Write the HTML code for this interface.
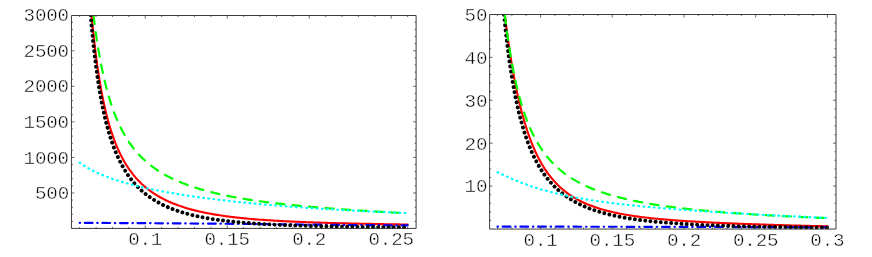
<!DOCTYPE html>
<html><head><meta charset="utf-8"><title>plot</title>
<style>
html,body{margin:0;padding:0;background:#fff;}
body{width:872px;height:257px;overflow:hidden;}
svg{display:block;}
text{font-family:"Liberation Mono",monospace;font-size:19.2px;fill:#000;stroke:#fff;stroke-width:0.45px;paint-order:fill stroke;letter-spacing:-0.15px;}
path{fill:none;}
</style></head><body>
<svg width="872" height="257" viewBox="0 0 872 257">
<defs>
<clipPath id="cL"><rect x="71.45" y="15.0" width="344.65" height="213.95"/></clipPath>
<clipPath id="cR"><rect x="489.6" y="14.0" width="346.40" height="215.55"/></clipPath>
</defs>
<rect width="872" height="257" fill="#fff"/>
<g clip-path="url(#cL)" stroke-linecap="round"><path d="M91.58 15.19 L91.72 16.69 L91.86 18.19 L92.00 19.69 L92.14 21.18 L92.29 22.68 L92.43 24.18 L92.58 25.68 L92.73 27.18 L92.88 28.67 L93.04 30.17 L93.19 31.67 L93.35 33.16 L93.51 34.66 L93.67 36.16 L93.83 37.65 L94.00 39.15 L94.17 40.65 L94.34 42.14 L94.51 43.64 L94.68 45.13 L94.86 46.63 L95.04 48.12 L95.22 49.62 L95.40 51.11 L95.58 52.60 L95.77 54.10 L95.96 55.59 L96.16 57.08 L96.35 58.57 L96.55 60.07 L96.75 61.56 L96.95 63.05 L97.16 64.54 L97.37 66.03 L97.58 67.52 L97.80 69.01 L98.02 70.50 L98.24 71.99 L98.47 73.48 L98.70 74.96 L98.93 76.45 L99.17 77.94 L99.41 79.42 L99.65 80.91 L99.90 82.39 L100.15 83.88 L100.40 85.36 L100.66 86.84 L100.93 88.33 L101.19 89.81 L101.47 91.29 L101.74 92.77 L102.03 94.24 L102.31 95.72 L102.61 97.20 L102.90 98.67 L103.20 100.15 L103.51 101.62 L103.83 103.09 L104.14 104.57 L104.47 106.03 L104.80 107.50 L105.14 108.97 L105.48 110.44 L105.83 111.90 L106.18 113.36 L106.55 114.82 L106.92 116.28 L107.30 117.74 L107.68 119.19 L108.07 120.65 L108.47 122.10 L108.88 123.55 L109.30 124.99 L109.73 126.44 L110.16 127.88 L110.61 129.31 L111.06 130.75 L111.52 132.18 L112.00 133.61 L112.48 135.04 L112.97 136.46 L113.48 137.88 L113.99 139.29 L114.52 140.70 L115.06 142.11 L115.61 143.51 L116.18 144.90 L116.75 146.29 L117.34 147.68 L117.94 149.06 L118.56 150.43 L119.19 151.79 L119.84 153.15 L120.50 154.51 L121.18 155.85 L121.87 157.19 L122.57 158.52 L123.30 159.84 L124.04 161.15 L124.80 162.45 L125.57 163.74 L126.36 165.02 L127.17 166.29 L128.00 167.55 L128.84 168.79 L129.70 170.02 L130.59 171.24 L131.49 172.45 L132.41 173.64 L133.34 174.82 L134.30 175.98 L135.27 177.13 L136.27 178.26 L137.28 179.37 L138.31 180.47 L139.36 181.55 L140.43 182.61 L141.51 183.66 L142.61 184.68 L143.73 185.69 L144.87 186.67 L146.02 187.64 L147.19 188.59 L148.37 189.52 L149.57 190.43 L150.79 191.32 L152.02 192.19 L153.26 193.03 L154.52 193.86 L155.78 194.67 L157.07 195.46 L158.36 196.23 L159.66 196.98 L160.98 197.72 L162.30 198.43 L163.64 199.12 L164.98 199.80 L166.34 200.46 L167.70 201.10 L169.07 201.72 L170.45 202.33 L171.83 202.92 L173.22 203.49 L174.62 204.05 L176.03 204.59 L177.44 205.11 L178.85 205.63 L180.27 206.12 L181.70 206.61 L183.13 207.07 L184.56 207.53 L186.00 207.97 L187.45 208.40 L188.89 208.82 L190.34 209.23 L191.79 209.62 L193.25 210.00 L194.71 210.37 L196.17 210.74 L197.63 211.09 L199.10 211.43 L200.57 211.76 L202.04 212.08 L203.51 212.40 L204.98 212.70 L206.46 213.00 L207.94 213.28 L209.42 213.56 L210.90 213.83 L212.38 214.10 L213.86 214.35 L215.34 214.60 L216.83 214.85 L218.32 215.08 L219.80 215.31 L221.29 215.54 L222.78 215.75 L224.27 215.97 L225.76 216.17 L227.25 216.37 L228.75 216.57 L230.24 216.76 L231.73 216.94 L233.23 217.12 L234.72 217.30 L236.22 217.47 L237.71 217.63 L239.21 217.80 L240.71 217.96 L242.21 218.11 L243.70 218.26 L245.20 218.41 L246.70 218.55 L248.20 218.69 L249.70 218.82 L251.20 218.95 L252.70 219.08 L254.20 219.21 L255.70 219.33 L257.20 219.45 L258.70 219.57 L260.20 219.68 L261.70 219.79 L263.20 219.90 L264.70 220.01 L266.20 220.11 L267.70 220.21 L269.21 220.31 L270.71 220.41 L272.21 220.50 L273.71 220.60 L275.22 220.69 L276.72 220.77 L278.22 220.86 L279.72 220.94 L281.23 221.03 L282.73 221.11 L284.23 221.19 L285.74 221.26 L287.24 221.34 L288.74 221.41 L290.25 221.48 L291.75 221.56 L293.25 221.62 L294.76 221.69 L296.26 221.76 L297.76 221.82 L299.27 221.89 L300.77 221.95 L302.28 222.01 L303.78 222.07 L305.28 222.13 L306.79 222.19 L308.29 222.24 L309.80 222.30 L311.30 222.35 L312.80 222.41 L314.31 222.46 L315.81 222.51 L317.32 222.56 L318.82 222.61 L320.33 222.66 L321.83 222.71 L323.33 222.75 L324.84 222.80 L326.34 222.85 L327.85 222.89 L329.35 222.93 L330.86 222.98 L332.36 223.02 L333.87 223.06 L335.37 223.10 L336.87 223.14 L338.38 223.18 L339.88 223.22 L341.39 223.26 L342.89 223.30 L344.40 223.33 L345.90 223.37 L347.41 223.41 L348.91 223.44 L350.42 223.48 L351.92 223.51 L353.43 223.55 L354.93 223.58 L356.44 223.61 L357.94 223.65 L359.45 223.68 L360.95 223.71 L362.46 223.74 L363.96 223.77 L365.46 223.80 L366.97 223.84 L368.47 223.87 L369.98 223.90 L371.48 223.92 L372.99 223.95 L374.49 223.98 L376.00 224.01 L377.50 224.04 L379.01 224.07 L380.51 224.09 L382.02 224.12 L383.52 224.15 L385.03 224.18 L386.53 224.20 L388.04 224.23 L389.54 224.26 L391.05 224.28 L392.55 224.31 L394.06 224.33 L395.56 224.36 L397.07 224.38 L398.57 224.41 L400.08 224.43 L401.58 224.46 L403.09 224.48 L404.59 224.51 L406.10 224.53 L407.60 224.55" stroke="#f00" stroke-width="2.1"/><path d="M79.66 222.85 L150.00 223.20 L220.00 223.70 L300.00 224.50 L350.00 225.00 L407.60 225.40" stroke="#00f" stroke-width="2.2" stroke-dasharray="0.4 4.75 7.7 4.75"/><path d="M90.59 15.19 L90.72 16.69 L90.85 18.19 L90.99 19.69 L91.12 21.19 L91.25 22.69 L91.39 24.19 L91.53 25.69 L91.67 27.19 L91.81 28.69 L91.95 30.19 L92.10 31.69 L92.24 33.19 L92.39 34.69 L92.54 36.19 L92.69 37.68 L92.85 39.18 L93.00 40.68 L93.16 42.18 L93.32 43.68 L93.48 45.17 L93.64 46.67 L93.81 48.17 L93.97 49.66 L94.14 51.16 L94.32 52.66 L94.49 54.15 L94.67 55.65 L94.84 57.14 L95.03 58.64 L95.21 60.13 L95.39 61.63 L95.58 63.12 L95.77 64.62 L95.97 66.11 L96.16 67.60 L96.36 69.10 L96.57 70.59 L96.77 72.08 L96.98 73.57 L97.19 75.06 L97.40 76.56 L97.62 78.05 L97.84 79.54 L98.07 81.03 L98.29 82.51 L98.52 84.00 L98.76 85.49 L99.00 86.98 L99.24 88.46 L99.49 89.95 L99.74 91.43 L99.99 92.92 L100.25 94.40 L100.51 95.89 L100.78 97.37 L101.05 98.85 L101.33 100.33 L101.61 101.81 L101.90 103.29 L102.19 104.77 L102.48 106.24 L102.79 107.72 L103.09 109.19 L103.41 110.67 L103.72 112.14 L104.05 113.61 L104.38 115.08 L104.72 116.55 L105.06 118.01 L105.41 119.48 L105.77 120.94 L106.14 122.40 L106.51 123.86 L106.89 125.32 L107.27 126.77 L107.67 128.23 L108.07 129.68 L108.49 131.13 L108.91 132.57 L109.34 134.02 L109.78 135.46 L110.22 136.89 L110.68 138.33 L111.15 139.76 L111.63 141.19 L112.12 142.61 L112.62 144.03 L113.13 145.45 L113.65 146.86 L114.19 148.27 L114.74 149.67 L115.30 151.07 L115.87 152.46 L116.46 153.85 L117.06 155.23 L117.68 156.61 L118.30 157.97 L118.95 159.34 L119.61 160.69 L120.28 162.04 L120.97 163.37 L121.68 164.70 L122.41 166.02 L123.15 167.34 L123.91 168.64 L124.68 169.93 L125.48 171.21 L126.29 172.48 L127.12 173.73 L127.97 174.98 L128.83 176.21 L129.72 177.43 L130.63 178.63 L131.55 179.82 L132.49 180.99 L133.46 182.15 L134.44 183.29 L135.44 184.42 L136.46 185.52 L137.50 186.61 L138.56 187.68 L139.64 188.74 L140.73 189.77 L141.85 190.79 L142.98 191.78 L144.12 192.76 L145.29 193.71 L146.47 194.65 L147.67 195.56 L148.88 196.45 L150.11 197.33 L151.35 198.18 L152.60 199.01 L153.87 199.82 L155.15 200.61 L156.45 201.38 L157.75 202.13 L159.07 202.86 L160.40 203.57 L161.74 204.27 L163.09 204.94 L164.44 205.59 L165.81 206.23 L167.18 206.84 L168.56 207.44 L169.95 208.02 L171.35 208.59 L172.75 209.13 L174.16 209.67 L175.58 210.18 L177.00 210.68 L178.42 211.17 L179.85 211.64 L181.29 212.09 L182.73 212.53 L184.17 212.96 L185.62 213.38 L187.07 213.78 L188.53 214.17 L189.99 214.55 L191.45 214.91 L192.91 215.27 L194.38 215.61 L195.85 215.95 L197.32 216.27 L198.79 216.59 L200.26 216.89 L201.74 217.18 L203.22 217.47 L204.70 217.75 L206.18 218.01 L207.67 218.27 L209.15 218.53 L210.64 218.77 L212.12 219.01 L213.61 219.24 L215.10 219.46 L216.59 219.68 L218.08 219.89 L219.58 220.09 L221.07 220.29 L222.56 220.48 L224.06 220.67 L225.55 220.85 L227.05 221.03 L228.55 221.20 L230.04 221.36 L231.54 221.52 L233.04 221.68 L234.54 221.83 L236.04 221.98 L237.53 222.12 L239.03 222.26 L240.53 222.39 L242.03 222.52 L243.54 222.65 L245.04 222.77 L246.54 222.90 L248.04 223.01 L249.54 223.13 L251.04 223.24 L252.55 223.34 L254.05 223.45 L255.55 223.55 L257.05 223.65 L258.56 223.75 L260.06 223.84 L261.56 223.93 L263.07 224.02 L264.57 224.11 L266.07 224.19 L267.58 224.27 L269.08 224.35 L270.59 224.43 L272.09 224.51 L273.59 224.58 L275.10 224.65 L276.60 224.72 L278.11 224.79 L279.61 224.86 L281.12 224.92 L282.62 224.99 L284.13 225.05 L285.63 225.11 L287.14 225.17 L288.64 225.23 L290.15 225.28 L291.65 225.34 L293.16 225.39 L294.66 225.44 L296.17 225.49 L297.67 225.54 L299.18 225.59 L300.68 225.64 L302.19 225.68 L303.69 225.73 L305.20 225.77 L306.71 225.82 L308.21 225.86 L309.72 225.90 L311.22 225.94 L312.73 225.98 L314.23 226.02 L315.74 226.06 L317.24 226.09 L318.75 226.13 L320.26 226.16 L321.76 226.20 L323.27 226.23 L324.77 226.27 L326.28 226.30 L327.78 226.33 L329.29 226.36 L330.80 226.39 L332.30 226.42 L333.81 226.45 L335.31 226.48 L336.82 226.51 L338.33 226.53 L339.83 226.56 L341.34 226.59 L342.84 226.61 L344.35 226.64 L345.86 226.66 L347.36 226.69 L348.87 226.71 L350.37 226.73 L351.88 226.76 L353.39 226.78 L354.89 226.80 L356.40 226.82 L357.90 226.84 L359.41 226.86 L360.91 226.89 L362.42 226.91 L363.93 226.92 L365.43 226.94 L366.94 226.96 L368.44 226.98 L369.95 227.00 L371.46 227.02 L372.96 227.04 L374.47 227.05 L375.97 227.07 L377.48 227.09 L378.99 227.10 L380.49 227.12 L382.00 227.14 L383.51 227.15 L385.01 227.17 L386.52 227.18 L388.02 227.20 L389.53 227.21 L391.04 227.23 L392.54 227.24 L394.05 227.26 L395.55 227.27 L397.06 227.28 L398.57 227.30 L400.07 227.31 L401.58 227.32 L403.08 227.34 L404.59 227.35 L406.10 227.36 L407.60 227.37" stroke="#000" stroke-width="3.9" stroke-dasharray="0.01 5.17" stroke-dashoffset="0"/><path d="M93.46 15.19 L93.65 16.68 L93.83 18.18 L94.02 19.67 L94.21 21.17 L94.41 22.66 L94.60 24.15 L94.80 25.65 L95.01 27.14 L95.21 28.63 L95.42 30.12 L95.63 31.62 L95.84 33.11 L96.05 34.60 L96.27 36.09 L96.49 37.58 L96.72 39.07 L96.94 40.56 L97.17 42.05 L97.41 43.53 L97.64 45.02 L97.88 46.51 L98.13 47.99 L98.38 49.48 L98.63 50.97 L98.88 52.45 L99.14 53.93 L99.40 55.42 L99.67 56.90 L99.94 58.38 L100.21 59.86 L100.49 61.34 L100.77 62.82 L101.06 64.30 L101.35 65.78 L101.65 67.26 L101.95 68.73 L102.26 70.21 L102.57 71.68 L102.89 73.15 L103.21 74.62 L103.54 76.09 L103.87 77.56 L104.21 79.03 L104.56 80.50 L104.91 81.96 L105.27 83.42 L105.63 84.89 L106.00 86.35 L106.38 87.80 L106.76 89.26 L107.15 90.71 L107.55 92.17 L107.96 93.62 L108.37 95.07 L108.79 96.51 L109.22 97.96 L109.66 99.40 L110.11 100.84 L110.56 102.27 L111.03 103.70 L111.50 105.13 L111.99 106.56 L112.48 107.98 L112.98 109.40 L113.50 110.82 L114.02 112.23 L114.56 113.64 L115.10 115.04 L115.66 116.44 L116.23 117.84 L116.81 119.22 L117.41 120.61 L118.02 121.99 L118.64 123.36 L119.27 124.73 L119.92 126.09 L120.58 127.44 L121.25 128.79 L121.94 130.13 L122.65 131.46 L123.37 132.78 L124.10 134.10 L124.85 135.40 L125.62 136.70 L126.40 137.99 L127.20 139.26 L128.01 140.53 L128.84 141.79 L129.69 143.03 L130.56 144.26 L131.44 145.48 L132.34 146.69 L133.25 147.89 L134.19 149.07 L135.14 150.24 L136.11 151.39 L137.09 152.53 L138.09 153.66 L139.11 154.76 L140.15 155.86 L141.20 156.94 L142.27 158.00 L143.36 159.04 L144.46 160.07 L145.57 161.08 L146.70 162.08 L147.85 163.05 L149.01 164.01 L150.18 164.96 L151.37 165.88 L152.57 166.79 L153.79 167.68 L155.02 168.56 L156.25 169.41 L157.51 170.25 L158.77 171.07 L160.04 171.88 L161.32 172.67 L162.62 173.44 L163.92 174.20 L165.23 174.94 L166.55 175.66 L167.88 176.37 L169.21 177.07 L170.56 177.75 L171.91 178.41 L173.27 179.06 L174.63 179.70 L176.01 180.32 L177.38 180.93 L178.77 181.53 L180.15 182.11 L181.55 182.68 L182.95 183.24 L184.35 183.79 L185.76 184.32 L187.17 184.85 L188.59 185.36 L190.01 185.86 L191.43 186.35 L192.86 186.83 L194.29 187.31 L195.72 187.77 L197.16 188.22 L198.60 188.66 L200.04 189.09 L201.49 189.52 L202.94 189.93 L204.39 190.34 L205.84 190.74 L207.29 191.13 L208.75 191.52 L210.21 191.89 L211.67 192.26 L213.13 192.62 L214.59 192.98 L216.06 193.33 L217.53 193.67 L218.99 194.00 L220.46 194.33 L221.94 194.65 L223.41 194.97 L224.88 195.28 L226.36 195.59 L227.83 195.89 L229.31 196.18 L230.79 196.47 L232.27 196.75 L233.75 197.03 L235.23 197.31 L236.71 197.58 L238.19 197.84 L239.68 198.10 L241.16 198.36 L242.65 198.61 L244.13 198.86 L245.62 199.10 L247.11 199.34 L248.59 199.58 L250.08 199.81 L251.57 200.04 L253.06 200.26 L254.55 200.48 L256.04 200.70 L257.53 200.91 L259.02 201.12 L260.52 201.33 L262.01 201.53 L263.50 201.74 L264.99 201.93 L266.49 202.13 L267.98 202.32 L269.48 202.51 L270.97 202.70 L272.47 202.88 L273.96 203.06 L275.46 203.24 L276.95 203.42 L278.45 203.59 L279.94 203.76 L281.44 203.93 L282.94 204.10 L284.44 204.27 L285.93 204.43 L287.43 204.59 L288.93 204.75 L290.43 204.90 L291.93 205.06 L293.42 205.21 L294.92 205.36 L296.42 205.51 L297.92 205.66 L299.42 205.80 L300.92 205.94 L302.42 206.09 L303.92 206.23 L305.42 206.36 L306.92 206.50 L308.42 206.64 L309.92 206.77 L311.42 206.90 L312.92 207.03 L314.42 207.16 L315.92 207.29 L317.42 207.41 L318.92 207.54 L320.42 207.66 L321.93 207.79 L323.43 207.91 L324.93 208.03 L326.43 208.14 L327.93 208.26 L329.43 208.38 L330.94 208.49 L332.44 208.61 L333.94 208.72 L335.44 208.83 L336.94 208.94 L338.45 209.05 L339.95 209.16 L341.45 209.27 L342.95 209.38 L344.46 209.48 L345.96 209.59 L347.46 209.69 L348.96 209.80 L350.47 209.90 L351.97 210.00 L353.47 210.10 L354.98 210.20 L356.48 210.30 L357.98 210.40 L359.48 210.50 L360.99 210.59 L362.49 210.69 L363.99 210.78 L365.50 210.88 L367.00 210.97 L368.50 211.07 L370.01 211.16 L371.51 211.25 L373.01 211.34 L374.52 211.43 L376.02 211.53 L377.52 211.61 L379.03 211.70 L380.53 211.79 L382.04 211.88 L383.54 211.97 L385.04 212.06 L386.55 212.14 L388.05 212.23 L389.55 212.31 L391.06 212.40 L392.56 212.48 L394.07 212.57 L395.57 212.65 L397.07 212.73 L398.58 212.82 L400.08 212.90 L401.59 212.98 L403.09 213.06 L404.59 213.14 L406.10 213.23 L407.60 213.31" stroke="#0f0" stroke-width="2.2" stroke-dasharray="8.35 8.15" stroke-dashoffset="-0.5"/><path d="M79.66 162.70 L80.89 163.57 L82.14 164.41 L83.40 165.24 L84.68 166.04 L85.96 166.83 L87.26 167.60 L88.57 168.34 L89.89 169.07 L91.21 169.79 L92.55 170.48 L93.90 171.16 L95.25 171.82 L96.61 172.46 L97.98 173.09 L99.36 173.71 L100.74 174.31 L102.13 174.90 L103.52 175.47 L104.92 176.03 L106.33 176.58 L107.74 177.11 L109.15 177.64 L110.57 178.15 L111.99 178.65 L113.41 179.14 L114.84 179.62 L116.27 180.09 L117.71 180.55 L119.14 181.01 L120.58 181.45 L122.03 181.89 L123.47 182.31 L124.92 182.73 L126.37 183.14 L127.82 183.54 L129.28 183.94 L130.73 184.33 L132.19 184.71 L133.65 185.09 L135.11 185.46 L136.57 185.82 L138.04 186.18 L139.50 186.53 L140.97 186.88 L142.44 187.22 L143.91 187.55 L145.38 187.88 L146.85 188.21 L148.32 188.53 L149.80 188.84 L151.27 189.15 L152.75 189.46 L154.22 189.76 L155.70 190.06 L157.18 190.35 L158.66 190.64 L160.14 190.92 L161.62 191.21 L163.10 191.48 L164.58 191.76 L166.06 192.03 L167.55 192.30 L169.03 192.56 L170.51 192.82 L172.00 193.08 L173.49 193.33 L174.97 193.58 L176.46 193.83 L177.95 194.07 L179.43 194.31 L180.92 194.55 L182.41 194.79 L183.90 195.02 L185.39 195.25 L186.88 195.48 L188.37 195.70 L189.86 195.92 L191.35 196.14 L192.84 196.36 L194.33 196.58 L195.82 196.79 L197.32 197.00 L198.81 197.21 L200.30 197.41 L201.80 197.62 L203.29 197.82 L204.78 198.02 L206.28 198.21 L207.77 198.41 L209.27 198.60 L210.76 198.79 L212.26 198.98 L213.75 199.17 L215.25 199.35 L216.74 199.53 L218.24 199.71 L219.74 199.89 L221.23 200.07 L222.73 200.25 L224.23 200.42 L225.72 200.59 L227.22 200.76 L228.72 200.93 L230.22 201.10 L231.71 201.26 L233.21 201.43 L234.71 201.59 L236.21 201.75 L237.71 201.91 L239.21 202.06 L240.71 202.22 L242.20 202.37 L243.70 202.53 L245.20 202.68 L246.70 202.83 L248.20 202.98 L249.70 203.12 L251.20 203.27 L252.70 203.41 L254.20 203.56 L255.70 203.70 L257.20 203.84 L258.70 203.98 L260.21 204.12 L261.71 204.25 L263.21 204.39 L264.71 204.52 L266.21 204.66 L267.71 204.79 L269.21 204.92 L270.71 205.05 L272.21 205.17 L273.72 205.30 L275.22 205.43 L276.72 205.55 L278.22 205.68 L279.72 205.80 L281.23 205.92 L282.73 206.04 L284.23 206.16 L285.73 206.28 L287.24 206.39 L288.74 206.51 L290.24 206.63 L291.74 206.74 L293.25 206.85 L294.75 206.96 L296.25 207.08 L297.76 207.19 L299.26 207.30 L300.76 207.40 L302.27 207.51 L303.77 207.62 L305.27 207.72 L306.78 207.83 L308.28 207.93 L309.78 208.03 L311.29 208.14 L312.79 208.24 L314.29 208.34 L315.80 208.44 L317.30 208.53 L318.80 208.63 L320.31 208.73 L321.81 208.83 L323.32 208.92 L324.82 209.01 L326.32 209.11 L327.83 209.20 L329.33 209.29 L330.84 209.38 L332.34 209.48 L333.85 209.57 L335.35 209.65 L336.86 209.74 L338.36 209.83 L339.86 209.92 L341.37 210.00 L342.87 210.09 L344.38 210.17 L345.88 210.26 L347.39 210.34 L348.89 210.42 L350.40 210.51 L351.90 210.59 L353.41 210.67 L354.91 210.75 L356.42 210.83 L357.92 210.91 L359.43 210.98 L360.93 211.06 L362.44 211.14 L363.94 211.22 L365.45 211.29 L366.95 211.37 L368.46 211.44 L369.96 211.51 L371.47 211.59 L372.97 211.66 L374.48 211.73 L375.98 211.80 L377.49 211.88 L378.99 211.95 L380.50 212.02 L382.01 212.09 L383.51 212.15 L385.02 212.22 L386.52 212.29 L388.03 212.36 L389.53 212.42 L391.04 212.49 L392.54 212.56 L394.05 212.62 L395.56 212.69 L397.06 212.75 L398.57 212.81 L400.07 212.88 L401.58 212.94 L403.08 213.00 L404.59 213.06 L406.10 213.12 L407.60 213.19" stroke="#0ff" stroke-width="2.2" stroke-dasharray="0.8 4.38"/></g><path d="M79.66 228.45v-1.5M79.66 15.5v1.5M96.06 228.45v-1.5M96.06 15.5v1.5M112.46 228.45v-1.5M112.46 15.5v1.5M128.85 228.45v-1.5M128.85 15.5v1.5M161.65 228.45v-1.5M161.65 15.5v1.5M178.04 228.45v-1.5M178.04 15.5v1.5M194.44 228.45v-1.5M194.44 15.5v1.5M210.84 228.45v-1.5M210.84 15.5v1.5M243.63 228.45v-1.5M243.63 15.5v1.5M260.03 228.45v-1.5M260.03 15.5v1.5M276.43 228.45v-1.5M276.43 15.5v1.5M292.82 228.45v-1.5M292.82 15.5v1.5M325.62 228.45v-1.5M325.62 15.5v1.5M342.01 228.45v-1.5M342.01 15.5v1.5M358.41 228.45v-1.5M358.41 15.5v1.5M374.81 228.45v-1.5M374.81 15.5v1.5M407.60 228.45v-1.5M407.60 15.5v1.5M145.25 228.45v-3M145.25 15.5v3M227.23 228.45v-3M227.23 15.5v3M309.22 228.45v-3M309.22 15.5v3M391.20 228.45v-3M391.20 15.5v3M71.45 221.44h1.5M416.1 221.44h-1.5M71.45 214.33h1.5M416.1 214.33h-1.5M71.45 207.21h1.5M416.1 207.21h-1.5M71.45 200.10h1.5M416.1 200.10h-1.5M71.45 185.88h1.5M416.1 185.88h-1.5M71.45 178.77h1.5M416.1 178.77h-1.5M71.45 171.65h1.5M416.1 171.65h-1.5M71.45 164.54h1.5M416.1 164.54h-1.5M71.45 150.32h1.5M416.1 150.32h-1.5M71.45 143.21h1.5M416.1 143.21h-1.5M71.45 136.09h1.5M416.1 136.09h-1.5M71.45 128.98h1.5M416.1 128.98h-1.5M71.45 114.76h1.5M416.1 114.76h-1.5M71.45 107.65h1.5M416.1 107.65h-1.5M71.45 100.53h1.5M416.1 100.53h-1.5M71.45 93.42h1.5M416.1 93.42h-1.5M71.45 79.20h1.5M416.1 79.20h-1.5M71.45 72.09h1.5M416.1 72.09h-1.5M71.45 64.97h1.5M416.1 64.97h-1.5M71.45 57.86h1.5M416.1 57.86h-1.5M71.45 43.64h1.5M416.1 43.64h-1.5M71.45 36.53h1.5M416.1 36.53h-1.5M71.45 29.41h1.5M416.1 29.41h-1.5M71.45 22.30h1.5M416.1 22.30h-1.5M71.45 192.99h3M416.1 192.99h-3M71.45 157.43h3M416.1 157.43h-3M71.45 121.87h3M416.1 121.87h-3M71.45 86.31h3M416.1 86.31h-3M71.45 50.75h3M416.1 50.75h-3" stroke="#444" stroke-width="0.8"/><path d="M71.45 15.5H416.1V228.45H71.45Z" stroke="#333" stroke-width="0.95"/>
<g clip-path="url(#cR)" stroke-linecap="round"><path d="M504.81 14.40 L504.98 15.89 L505.16 17.39 L505.34 18.88 L505.52 20.38 L505.71 21.87 L505.89 23.36 L506.08 24.86 L506.27 26.35 L506.46 27.84 L506.65 29.34 L506.85 30.83 L507.04 32.32 L507.24 33.81 L507.44 35.30 L507.64 36.79 L507.85 38.29 L508.05 39.78 L508.26 41.27 L508.47 42.76 L508.68 44.25 L508.90 45.74 L509.12 47.23 L509.34 48.71 L509.56 50.20 L509.78 51.69 L510.01 53.18 L510.24 54.67 L510.47 56.15 L510.70 57.64 L510.94 59.13 L511.18 60.61 L511.42 62.10 L511.67 63.58 L511.91 65.07 L512.17 66.55 L512.42 68.03 L512.68 69.52 L512.94 71.00 L513.20 72.48 L513.46 73.96 L513.73 75.44 L514.01 76.92 L514.28 78.40 L514.56 79.88 L514.85 81.36 L515.13 82.84 L515.42 84.31 L515.72 85.79 L516.02 87.26 L516.32 88.74 L516.62 90.21 L516.93 91.68 L517.25 93.16 L517.57 94.63 L517.89 96.10 L518.22 97.56 L518.55 99.03 L518.89 100.50 L519.23 101.96 L519.58 103.43 L519.93 104.89 L520.29 106.35 L520.65 107.81 L521.02 109.27 L521.40 110.73 L521.78 112.19 L522.16 113.64 L522.56 115.09 L522.95 116.55 L523.36 117.99 L523.77 119.44 L524.19 120.89 L524.61 122.33 L525.05 123.77 L525.49 125.21 L525.93 126.65 L526.39 128.08 L526.85 129.52 L527.32 130.94 L527.80 132.37 L528.29 133.79 L528.79 135.21 L529.29 136.63 L529.81 138.05 L530.34 139.46 L530.87 140.86 L531.42 142.27 L531.97 143.66 L532.54 145.06 L533.12 146.45 L533.71 147.83 L534.31 149.21 L534.92 150.59 L535.54 151.96 L536.18 153.32 L536.83 154.68 L537.49 156.03 L538.17 157.37 L538.86 158.71 L539.57 160.04 L540.29 161.36 L541.03 162.67 L541.78 163.98 L542.54 165.27 L543.32 166.56 L544.12 167.83 L544.94 169.10 L545.77 170.35 L546.62 171.59 L547.49 172.82 L548.37 174.04 L549.28 175.24 L550.20 176.43 L551.14 177.61 L552.09 178.77 L553.07 179.92 L554.06 181.05 L555.08 182.16 L556.11 183.25 L557.16 184.33 L558.23 185.39 L559.32 186.43 L560.42 187.45 L561.54 188.45 L562.68 189.44 L563.84 190.40 L565.02 191.34 L566.21 192.26 L567.41 193.16 L568.64 194.04 L569.87 194.89 L571.13 195.73 L572.39 196.54 L573.67 197.34 L574.96 198.11 L576.27 198.86 L577.58 199.59 L578.91 200.30 L580.25 200.99 L581.60 201.65 L582.95 202.30 L584.32 202.93 L585.70 203.54 L587.08 204.14 L588.47 204.71 L589.87 205.27 L591.27 205.81 L592.68 206.33 L594.10 206.84 L595.52 207.33 L596.95 207.81 L598.38 208.27 L599.82 208.71 L601.26 209.15 L602.71 209.56 L604.16 209.97 L605.61 210.36 L607.07 210.75 L608.52 211.12 L609.99 211.47 L611.45 211.82 L612.92 212.16 L614.39 212.48 L615.86 212.80 L617.33 213.11 L618.81 213.41 L620.28 213.70 L621.76 213.98 L623.24 214.25 L624.72 214.51 L626.20 214.77 L627.69 215.02 L629.17 215.26 L630.66 215.50 L632.15 215.73 L633.64 215.95 L635.13 216.17 L636.62 216.38 L638.11 216.59 L639.60 216.79 L641.09 216.98 L642.58 217.17 L644.08 217.36 L645.57 217.54 L647.07 217.71 L648.56 217.88 L650.06 218.05 L651.55 218.21 L653.05 218.37 L654.55 218.53 L656.04 218.68 L657.54 218.82 L659.04 218.97 L660.54 219.11 L662.04 219.25 L663.53 219.38 L665.03 219.51 L666.53 219.64 L668.03 219.77 L669.53 219.89 L671.03 220.01 L672.53 220.13 L674.03 220.25 L675.53 220.36 L677.03 220.47 L678.54 220.58 L680.04 220.69 L681.54 220.79 L683.04 220.89 L684.54 220.99 L686.04 221.09 L687.54 221.19 L689.05 221.28 L690.55 221.38 L692.05 221.47 L693.55 221.56 L695.06 221.65 L696.56 221.73 L698.06 221.82 L699.56 221.90 L701.07 221.99 L702.57 222.07 L704.07 222.15 L705.57 222.23 L707.08 222.30 L708.58 222.38 L710.08 222.46 L711.59 222.53 L713.09 222.60 L714.59 222.68 L716.10 222.75 L717.60 222.82 L719.10 222.89 L720.61 222.95 L722.11 223.02 L723.61 223.09 L725.12 223.15 L726.62 223.22 L728.12 223.28 L729.63 223.34 L731.13 223.41 L732.63 223.47 L734.14 223.53 L735.64 223.59 L737.15 223.65 L738.65 223.71 L740.15 223.76 L741.66 223.82 L743.16 223.88 L744.66 223.93 L746.17 223.99 L747.67 224.04 L749.18 224.10 L750.68 224.15 L752.18 224.20 L753.69 224.26 L755.19 224.31 L756.70 224.36 L758.20 224.41 L759.70 224.46 L761.21 224.51 L762.71 224.56 L764.22 224.61 L765.72 224.66 L767.23 224.71 L768.73 224.76 L770.23 224.80 L771.74 224.85 L773.24 224.90 L774.75 224.94 L776.25 224.99 L777.75 225.03 L779.26 225.08 L780.76 225.12 L782.27 225.17 L783.77 225.21 L785.28 225.25 L786.78 225.30 L788.28 225.34 L789.79 225.38 L791.29 225.43 L792.80 225.47 L794.30 225.51 L795.81 225.55 L797.31 225.59 L798.82 225.63 L800.32 225.67 L801.82 225.71 L803.33 225.75 L804.83 225.79 L806.34 225.83 L807.84 225.87 L809.35 225.90 L810.85 225.94 L812.36 225.98 L813.86 226.02 L815.36 226.05 L816.87 226.09 L818.37 226.13 L819.88 226.16 L821.38 226.20 L822.89 226.24 L824.39 226.27 L825.90 226.31 L827.40 226.34" stroke="#f00" stroke-width="2.1"/><path d="M497.53 226.65 L650.00 226.80 L730.00 227.00 L780.00 227.20 L827.40 227.45" stroke="#00f" stroke-width="2.2" stroke-dasharray="0.4 4.8 7.7 4.8"/><path d="M503.95 14.40 L504.10 15.90 L504.25 17.40 L504.40 18.89 L504.56 20.39 L504.71 21.89 L504.86 23.39 L505.02 24.88 L505.18 26.38 L505.34 27.88 L505.50 29.37 L505.67 30.87 L505.83 32.37 L506.00 33.86 L506.17 35.36 L506.34 36.85 L506.52 38.35 L506.69 39.85 L506.87 41.34 L507.05 42.83 L507.23 44.33 L507.42 45.82 L507.60 47.32 L507.79 48.81 L507.98 50.30 L508.18 51.80 L508.37 53.29 L508.57 54.78 L508.77 56.27 L508.98 57.77 L509.18 59.26 L509.39 60.75 L509.60 62.24 L509.81 63.73 L510.03 65.22 L510.25 66.71 L510.47 68.20 L510.70 69.68 L510.93 71.17 L511.16 72.66 L511.39 74.15 L511.63 75.63 L511.87 77.12 L512.12 78.60 L512.37 80.09 L512.62 81.57 L512.88 83.06 L513.14 84.54 L513.40 86.02 L513.67 87.50 L513.94 88.98 L514.21 90.46 L514.49 91.94 L514.78 93.42 L515.07 94.90 L515.36 96.38 L515.66 97.85 L515.96 99.33 L516.27 100.80 L516.58 102.27 L516.90 103.74 L517.22 105.22 L517.55 106.68 L517.88 108.15 L518.22 109.62 L518.57 111.08 L518.92 112.55 L519.28 114.01 L519.64 115.47 L520.01 116.93 L520.39 118.39 L520.77 119.84 L521.16 121.30 L521.56 122.75 L521.97 124.20 L522.38 125.65 L522.80 127.09 L523.23 128.54 L523.67 129.98 L524.11 131.41 L524.57 132.85 L525.03 134.28 L525.50 135.71 L525.99 137.14 L526.48 138.56 L526.98 139.98 L527.49 141.39 L528.02 142.81 L528.55 144.21 L529.09 145.62 L529.65 147.01 L530.22 148.41 L530.80 149.80 L531.39 151.18 L532.00 152.56 L532.62 153.93 L533.25 155.30 L533.90 156.66 L534.55 158.01 L535.23 159.36 L535.92 160.70 L536.62 162.03 L537.34 163.35 L538.08 164.66 L538.83 165.97 L539.59 167.26 L540.38 168.55 L541.18 169.82 L542.00 171.09 L542.83 172.34 L543.69 173.58 L544.56 174.81 L545.44 176.02 L546.35 177.23 L547.28 178.41 L548.22 179.59 L549.18 180.74 L550.16 181.89 L551.16 183.01 L552.18 184.12 L553.21 185.22 L554.27 186.29 L555.34 187.35 L556.43 188.39 L557.53 189.41 L558.66 190.41 L559.80 191.39 L560.95 192.36 L562.13 193.30 L563.32 194.22 L564.52 195.12 L565.74 196.01 L566.98 196.87 L568.22 197.71 L569.49 198.53 L570.76 199.34 L572.05 200.12 L573.34 200.88 L574.65 201.62 L575.98 202.34 L577.31 203.04 L578.65 203.73 L580.00 204.39 L581.36 205.04 L582.73 205.67 L584.10 206.28 L585.49 206.87 L586.88 207.45 L588.28 208.00 L589.68 208.55 L591.09 209.07 L592.51 209.58 L593.93 210.08 L595.35 210.56 L596.79 211.03 L598.22 211.48 L599.66 211.92 L601.10 212.35 L602.55 212.76 L604.00 213.16 L605.46 213.55 L606.91 213.93 L608.37 214.30 L609.84 214.65 L611.30 215.00 L612.77 215.33 L614.24 215.66 L615.71 215.97 L617.19 216.28 L618.66 216.57 L620.14 216.86 L621.62 217.14 L623.10 217.41 L624.58 217.68 L626.07 217.93 L627.55 218.18 L629.04 218.42 L630.52 218.66 L632.01 218.89 L633.50 219.11 L634.99 219.32 L636.48 219.53 L637.97 219.74 L639.47 219.93 L640.96 220.12 L642.45 220.31 L643.95 220.49 L645.44 220.67 L646.94 220.84 L648.43 221.01 L649.93 221.17 L651.43 221.33 L652.93 221.48 L654.42 221.63 L655.92 221.78 L657.42 221.92 L658.92 222.06 L660.42 222.19 L661.92 222.33 L663.42 222.45 L664.92 222.58 L666.42 222.70 L667.92 222.82 L669.42 222.93 L670.92 223.04 L672.42 223.15 L673.93 223.26 L675.43 223.36 L676.93 223.47 L678.43 223.57 L679.93 223.66 L681.44 223.76 L682.94 223.85 L684.44 223.94 L685.94 224.03 L687.45 224.11 L688.95 224.19 L690.45 224.28 L691.96 224.35 L693.46 224.43 L694.96 224.51 L696.47 224.58 L697.97 224.65 L699.48 224.73 L700.98 224.79 L702.48 224.86 L703.99 224.93 L705.49 224.99 L707.00 225.06 L708.50 225.12 L710.00 225.18 L711.51 225.24 L713.01 225.29 L714.52 225.35 L716.02 225.41 L717.53 225.46 L719.03 225.51 L720.53 225.56 L722.04 225.62 L723.54 225.67 L725.05 225.71 L726.55 225.76 L728.06 225.81 L729.56 225.85 L731.07 225.90 L732.57 225.94 L734.08 225.98 L735.58 226.03 L737.09 226.07 L738.59 226.11 L740.10 226.15 L741.60 226.19 L743.11 226.22 L744.61 226.26 L746.12 226.30 L747.62 226.33 L749.13 226.37 L750.63 226.40 L752.14 226.44 L753.64 226.47 L755.15 226.50 L756.65 226.53 L758.16 226.57 L759.66 226.60 L761.17 226.63 L762.67 226.66 L764.18 226.69 L765.68 226.71 L767.19 226.74 L768.69 226.77 L770.20 226.80 L771.70 226.82 L773.21 226.85 L774.71 226.87 L776.22 226.90 L777.72 226.92 L779.23 226.95 L780.74 226.97 L782.24 227.00 L783.75 227.02 L785.25 227.04 L786.76 227.06 L788.26 227.09 L789.77 227.11 L791.27 227.13 L792.78 227.15 L794.28 227.17 L795.79 227.19 L797.29 227.21 L798.80 227.23 L800.30 227.25 L801.81 227.27 L803.31 227.29 L804.82 227.30 L806.33 227.32 L807.83 227.34 L809.34 227.36 L810.84 227.38 L812.35 227.39 L813.85 227.41 L815.36 227.43 L816.86 227.44 L818.37 227.46 L819.87 227.47 L821.38 227.49 L822.88 227.50 L824.39 227.52 L825.89 227.53 L827.40 227.55" stroke="#000" stroke-width="3.9" stroke-dasharray="0.01 5.19" stroke-dashoffset="-0.5"/><path d="M504.79 14.40 L504.97 15.89 L505.15 17.39 L505.33 18.88 L505.51 20.38 L505.70 21.87 L505.89 23.37 L506.08 24.86 L506.27 26.35 L506.46 27.84 L506.66 29.34 L506.86 30.83 L507.06 32.32 L507.26 33.81 L507.47 35.30 L507.68 36.79 L507.89 38.28 L508.11 39.77 L508.33 41.26 L508.55 42.75 L508.77 44.24 L509.00 45.73 L509.23 47.22 L509.46 48.70 L509.70 50.19 L509.94 51.68 L510.18 53.16 L510.43 54.65 L510.68 56.13 L510.93 57.62 L511.19 59.10 L511.45 60.58 L511.71 62.06 L511.98 63.55 L512.25 65.03 L512.53 66.51 L512.81 67.98 L513.10 69.46 L513.39 70.94 L513.68 72.42 L513.98 73.89 L514.28 75.37 L514.59 76.84 L514.90 78.31 L515.22 79.78 L515.55 81.25 L515.88 82.72 L516.21 84.19 L516.55 85.66 L516.90 87.12 L517.25 88.58 L517.61 90.05 L517.97 91.51 L518.34 92.97 L518.72 94.42 L519.11 95.88 L519.50 97.33 L519.90 98.78 L520.30 100.23 L520.71 101.68 L521.14 103.13 L521.57 104.57 L522.00 106.01 L522.45 107.45 L522.90 108.88 L523.37 110.31 L523.84 111.74 L524.32 113.17 L524.81 114.59 L525.31 116.01 L525.83 117.43 L526.35 118.84 L526.88 120.25 L527.42 121.65 L527.98 123.05 L528.55 124.45 L529.12 125.84 L529.71 127.22 L530.32 128.60 L530.93 129.97 L531.56 131.34 L532.20 132.70 L532.86 134.06 L533.53 135.41 L534.21 136.75 L534.91 138.08 L535.62 139.41 L536.35 140.72 L537.10 142.03 L537.86 143.33 L538.63 144.62 L539.42 145.90 L540.23 147.17 L541.06 148.43 L541.90 149.68 L542.75 150.92 L543.63 152.14 L544.52 153.36 L545.43 154.55 L546.36 155.74 L547.30 156.91 L548.26 158.07 L549.24 159.22 L550.24 160.34 L551.25 161.46 L552.28 162.55 L553.33 163.64 L554.39 164.70 L555.47 165.75 L556.57 166.78 L557.68 167.80 L558.81 168.79 L559.95 169.77 L561.11 170.73 L562.28 171.68 L563.47 172.61 L564.67 173.51 L565.88 174.41 L567.11 175.28 L568.35 176.13 L569.60 176.97 L570.86 177.79 L572.13 178.60 L573.42 179.38 L574.71 180.15 L576.02 180.90 L577.33 181.64 L578.65 182.36 L579.98 183.06 L581.32 183.75 L582.67 184.42 L584.02 185.08 L585.38 185.72 L586.75 186.35 L588.13 186.96 L589.51 187.56 L590.90 188.14 L592.29 188.72 L593.69 189.28 L595.09 189.82 L596.50 190.36 L597.91 190.88 L599.32 191.39 L600.74 191.89 L602.17 192.38 L603.59 192.86 L605.03 193.32 L606.46 193.78 L607.90 194.23 L609.34 194.66 L610.78 195.09 L612.23 195.51 L613.68 195.92 L615.13 196.32 L616.58 196.71 L618.04 197.09 L619.49 197.47 L620.95 197.84 L622.41 198.20 L623.88 198.55 L625.34 198.90 L626.81 199.24 L628.28 199.57 L629.75 199.90 L631.22 200.22 L632.69 200.53 L634.16 200.84 L635.64 201.14 L637.12 201.43 L638.59 201.72 L640.07 202.01 L641.55 202.29 L643.03 202.56 L644.51 202.83 L645.99 203.09 L647.48 203.35 L648.96 203.61 L650.45 203.86 L651.93 204.10 L653.42 204.34 L654.90 204.58 L656.39 204.81 L657.88 205.04 L659.37 205.27 L660.86 205.49 L662.34 205.71 L663.83 205.92 L665.33 206.13 L666.82 206.34 L668.31 206.54 L669.80 206.74 L671.29 206.94 L672.79 207.13 L674.28 207.32 L675.77 207.51 L677.27 207.70 L678.76 207.88 L680.26 208.06 L681.75 208.23 L683.25 208.41 L684.74 208.58 L686.24 208.75 L687.73 208.91 L689.23 209.08 L690.73 209.24 L692.22 209.40 L693.72 209.55 L695.22 209.71 L696.72 209.86 L698.21 210.01 L699.71 210.16 L701.21 210.31 L702.71 210.45 L704.21 210.59 L705.71 210.73 L707.20 210.87 L708.70 211.01 L710.20 211.14 L711.70 211.28 L713.20 211.41 L714.70 211.54 L716.20 211.66 L717.70 211.79 L719.20 211.92 L720.70 212.04 L722.20 212.16 L723.70 212.28 L725.20 212.40 L726.70 212.52 L728.21 212.63 L729.71 212.75 L731.21 212.86 L732.71 212.97 L734.21 213.08 L735.71 213.19 L737.21 213.30 L738.71 213.41 L740.22 213.51 L741.72 213.62 L743.22 213.72 L744.72 213.82 L746.22 213.92 L747.73 214.02 L749.23 214.12 L750.73 214.22 L752.23 214.32 L753.73 214.41 L755.24 214.51 L756.74 214.60 L758.24 214.69 L759.74 214.78 L761.25 214.88 L762.75 214.97 L764.25 215.05 L765.75 215.14 L767.26 215.23 L768.76 215.32 L770.26 215.40 L771.77 215.49 L773.27 215.57 L774.77 215.65 L776.28 215.74 L777.78 215.82 L779.28 215.90 L780.79 215.98 L782.29 216.06 L783.79 216.14 L785.30 216.22 L786.80 216.29 L788.30 216.37 L789.81 216.45 L791.31 216.52 L792.81 216.60 L794.32 216.67 L795.82 216.74 L797.32 216.82 L798.83 216.89 L800.33 216.96 L801.83 217.03 L803.34 217.10 L804.84 217.17 L806.35 217.24 L807.85 217.31 L809.35 217.38 L810.86 217.45 L812.36 217.51 L813.86 217.58 L815.37 217.65 L816.87 217.71 L818.38 217.78 L819.88 217.84 L821.38 217.91 L822.89 217.97 L824.39 218.03 L825.90 218.10 L827.40 218.16" stroke="#0f0" stroke-width="2.2" stroke-dasharray="8.4 8.2" stroke-dashoffset="-0.7"/><path d="M497.53 172.17 L498.89 172.83 L500.25 173.49 L501.62 174.14 L502.98 174.78 L504.35 175.42 L505.72 176.05 L507.09 176.68 L508.47 177.30 L509.85 177.92 L511.23 178.52 L512.62 179.12 L514.01 179.71 L515.40 180.29 L516.79 180.87 L518.19 181.43 L519.60 181.99 L521.00 182.54 L522.41 183.08 L523.83 183.61 L525.24 184.13 L526.66 184.65 L528.08 185.15 L529.51 185.65 L530.94 186.14 L532.37 186.62 L533.80 187.09 L535.24 187.55 L536.68 188.01 L538.12 188.45 L539.57 188.89 L541.01 189.32 L542.46 189.75 L543.91 190.16 L545.37 190.57 L546.82 190.97 L548.28 191.36 L549.74 191.75 L551.20 192.13 L552.66 192.50 L554.13 192.86 L555.60 193.22 L557.06 193.57 L558.53 193.92 L560.00 194.26 L561.48 194.59 L562.95 194.92 L564.43 195.24 L565.90 195.55 L567.38 195.86 L568.86 196.17 L570.34 196.46 L571.82 196.76 L573.30 197.04 L574.79 197.33 L576.27 197.61 L577.75 197.88 L579.24 198.15 L580.73 198.41 L582.21 198.67 L583.70 198.92 L585.19 199.18 L586.68 199.42 L588.17 199.66 L589.66 199.90 L591.15 200.14 L592.64 200.37 L594.14 200.60 L595.63 200.82 L597.12 201.04 L598.62 201.26 L600.11 201.47 L601.61 201.68 L603.10 201.89 L604.60 202.09 L606.09 202.29 L607.59 202.49 L609.09 202.68 L610.58 202.87 L612.08 203.06 L613.58 203.25 L615.08 203.43 L616.58 203.62 L618.08 203.79 L619.58 203.97 L621.08 204.15 L622.57 204.32 L624.07 204.49 L625.58 204.65 L627.08 204.82 L628.58 204.98 L630.08 205.14 L631.58 205.30 L633.08 205.46 L634.58 205.62 L636.08 205.77 L637.59 205.92 L639.09 206.07 L640.59 206.22 L642.09 206.37 L643.60 206.51 L645.10 206.65 L646.60 206.79 L648.10 206.93 L649.61 207.07 L651.11 207.21 L652.61 207.35 L654.12 207.48 L655.62 207.61 L657.13 207.74 L658.63 207.87 L660.13 208.00 L661.64 208.13 L663.14 208.26 L664.65 208.38 L666.15 208.51 L667.66 208.63 L669.16 208.75 L670.67 208.87 L672.17 208.99 L673.68 209.11 L675.18 209.23 L676.69 209.34 L678.19 209.46 L679.70 209.57 L681.20 209.69 L682.71 209.80 L684.21 209.91 L685.72 210.02 L687.22 210.13 L688.73 210.24 L690.24 210.35 L691.74 210.46 L693.25 210.56 L694.75 210.67 L696.26 210.77 L697.77 210.88 L699.27 210.98 L700.78 211.08 L702.28 211.19 L703.79 211.29 L705.30 211.39 L706.80 211.49 L708.31 211.59 L709.82 211.68 L711.32 211.78 L712.83 211.88 L714.34 211.98 L715.84 212.07 L717.35 212.17 L718.86 212.26 L720.36 212.36 L721.87 212.45 L723.38 212.54 L724.88 212.64 L726.39 212.73 L727.90 212.82 L729.40 212.91 L730.91 213.00 L732.42 213.09 L733.92 213.18 L735.43 213.27 L736.94 213.36 L738.45 213.45 L739.95 213.53 L741.46 213.62 L742.97 213.71 L744.47 213.79 L745.98 213.88 L747.49 213.96 L749.00 214.05 L750.50 214.13 L752.01 214.22 L753.52 214.30 L755.02 214.38 L756.53 214.46 L758.04 214.55 L759.55 214.63 L761.05 214.71 L762.56 214.79 L764.07 214.87 L765.58 214.95 L767.08 215.03 L768.59 215.11 L770.10 215.19 L771.61 215.27 L773.11 215.35 L774.62 215.43 L776.13 215.50 L777.64 215.58 L779.15 215.66 L780.65 215.73 L782.16 215.81 L783.67 215.89 L785.18 215.96 L786.68 216.04 L788.19 216.11 L789.70 216.19 L791.21 216.26 L792.72 216.33 L794.22 216.41 L795.73 216.48 L797.24 216.55 L798.75 216.63 L800.26 216.70 L801.76 216.77 L803.27 216.84 L804.78 216.91 L806.29 216.99 L807.79 217.06 L809.30 217.13 L810.81 217.20 L812.32 217.27 L813.83 217.34 L815.34 217.41 L816.84 217.47 L818.35 217.54 L819.86 217.61 L821.37 217.68 L822.88 217.75 L824.38 217.82 L825.89 217.88 L827.40 217.95" stroke="#0ff" stroke-width="2.2" stroke-dasharray="0.8 4.4"/></g><path d="M497.53 229.05v-1.5M497.53 14.5v1.5M511.88 229.05v-1.5M511.88 14.5v1.5M526.22 229.05v-1.5M526.22 14.5v1.5M554.90 229.05v-1.5M554.90 14.5v1.5M569.24 229.05v-1.5M569.24 14.5v1.5M583.59 229.05v-1.5M583.59 14.5v1.5M597.93 229.05v-1.5M597.93 14.5v1.5M626.61 229.05v-1.5M626.61 14.5v1.5M640.95 229.05v-1.5M640.95 14.5v1.5M655.30 229.05v-1.5M655.30 14.5v1.5M669.64 229.05v-1.5M669.64 14.5v1.5M698.32 229.05v-1.5M698.32 14.5v1.5M712.66 229.05v-1.5M712.66 14.5v1.5M727.01 229.05v-1.5M727.01 14.5v1.5M741.35 229.05v-1.5M741.35 14.5v1.5M770.03 229.05v-1.5M770.03 14.5v1.5M784.37 229.05v-1.5M784.37 14.5v1.5M798.72 229.05v-1.5M798.72 14.5v1.5M813.06 229.05v-1.5M813.06 14.5v1.5M540.56 229.05v-3M540.56 14.5v3M612.27 229.05v-3M612.27 14.5v3M683.98 229.05v-3M683.98 14.5v3M755.69 229.05v-3M755.69 14.5v3M827.40 229.05v-3M827.40 14.5v3M489.6 220.42h1.5M836.0 220.42h-1.5M489.6 211.83h1.5M836.0 211.83h-1.5M489.6 203.25h1.5M836.0 203.25h-1.5M489.6 194.66h1.5M836.0 194.66h-1.5M489.6 177.50h1.5M836.0 177.50h-1.5M489.6 168.91h1.5M836.0 168.91h-1.5M489.6 160.33h1.5M836.0 160.33h-1.5M489.6 151.74h1.5M836.0 151.74h-1.5M489.6 134.58h1.5M836.0 134.58h-1.5M489.6 125.99h1.5M836.0 125.99h-1.5M489.6 117.41h1.5M836.0 117.41h-1.5M489.6 108.82h1.5M836.0 108.82h-1.5M489.6 91.66h1.5M836.0 91.66h-1.5M489.6 83.07h1.5M836.0 83.07h-1.5M489.6 74.49h1.5M836.0 74.49h-1.5M489.6 65.90h1.5M836.0 65.90h-1.5M489.6 48.74h1.5M836.0 48.74h-1.5M489.6 40.15h1.5M836.0 40.15h-1.5M489.6 31.57h1.5M836.0 31.57h-1.5M489.6 22.98h1.5M836.0 22.98h-1.5M489.6 186.08h3M836.0 186.08h-3M489.6 143.16h3M836.0 143.16h-3M489.6 100.24h3M836.0 100.24h-3M489.6 57.32h3M836.0 57.32h-3" stroke="#444" stroke-width="0.8"/><path d="M489.6 14.5H836.0V229.05H489.6Z" stroke="#333" stroke-width="0.95"/>
<g style="filter:grayscale(1)">
<text x="145.2" y="245.4" text-anchor="middle">0.1</text><text x="227.2" y="245.4" text-anchor="middle">0.15</text><text x="309.2" y="245.4" text-anchor="middle">0.2</text><text x="391.2" y="245.4" text-anchor="middle">0.25</text>
<text x="69" y="199.1" text-anchor="end">500</text><text x="69" y="163.5" text-anchor="end">1000</text><text x="69" y="128.0" text-anchor="end">1500</text><text x="69" y="92.4" text-anchor="end">2000</text><text x="69" y="56.9" text-anchor="end">2500</text><text x="69" y="21.3" text-anchor="end">3000</text>
<text x="540.6" y="246.0" text-anchor="middle">0.1</text><text x="612.3" y="246.0" text-anchor="middle">0.15</text><text x="684.0" y="246.0" text-anchor="middle">0.2</text><text x="755.7" y="246.0" text-anchor="middle">0.25</text><text x="827.4" y="246.0" text-anchor="middle">0.3</text>
<text x="487.3" y="192.4" text-anchor="end">10</text><text x="487.3" y="149.5" text-anchor="end">20</text><text x="487.3" y="106.5" text-anchor="end">30</text><text x="487.3" y="63.6" text-anchor="end">40</text><text x="487.3" y="20.7" text-anchor="end">50</text>
</g>
</svg>
</body></html>
